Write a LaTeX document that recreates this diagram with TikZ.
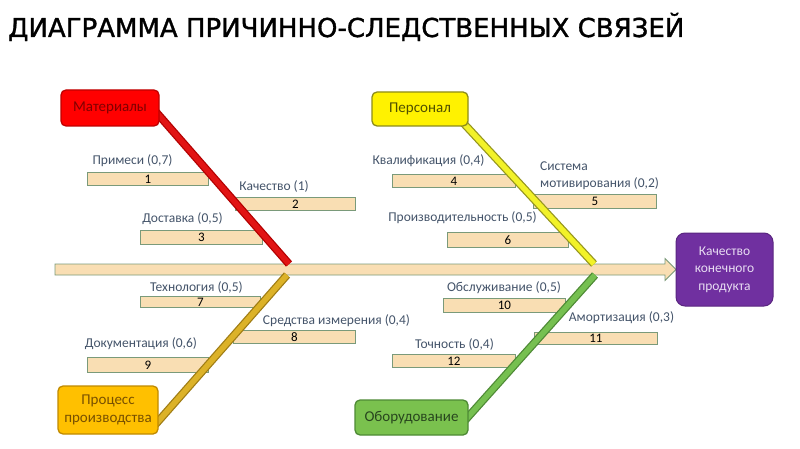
\documentclass[tikz,border=0pt]{standalone}
\usepackage{fontspec}
\setmainfont{Carlito}
\newfontfamily\titlefont[RawFeature={embolden=1.3}]{DejaVu Sans}
\definecolor{ribfill}{HTML}{F9DEB3}
\definecolor{ribline}{HTML}{7A9A7A}
\definecolor{ribtext}{HTML}{44546A}
\definecolor{effill}{HTML}{7030A0}
\definecolor{eftext}{HTML}{E8DDF2}
\definecolor{redcore}{HTML}{E11414}
\definecolor{rededge}{HTML}{B30000}
\definecolor{goldcore}{HTML}{DCB228}
\definecolor{goldedge}{HTML}{A07D14}
\definecolor{yelcore}{HTML}{F2F228}
\definecolor{yeledge}{HTML}{96961E}
\definecolor{grncore}{HTML}{76C050}
\definecolor{grnedge}{HTML}{4E8A35}
\definecolor{procfill}{HTML}{FFC000}
\definecolor{procedge}{HTML}{C08A00}
\definecolor{proctext}{HTML}{785000}
\definecolor{eqfill}{HTML}{7AC14E}
\definecolor{eqtext}{HTML}{28461E}
\definecolor{persedge}{HTML}{8C8C1A}
\definecolor{perstext}{HTML}{505000}
\definecolor{matedge}{HTML}{C00000}
\definecolor{mattext}{HTML}{800000}
\pgfdeclarelayer{back}
\pgfdeclarelayer{ribs}
\pgfdeclarelayer{bones}
\pgfsetlayers{back,ribs,bones,main}
\tikzset{
  ribbox/.style={draw=ribline, line width=0.8pt, fill=ribfill, rectangle, inner sep=0pt, anchor=north west, font=\fontsize{13}{13}\selectfont, text=black},
  riblabel/.style={inner sep=0pt, font=\fontsize{13.5}{17}\selectfont, text=ribtext},
  catbox/.style={rectangle, rounded corners=5pt, line width=1.3pt, inner sep=0pt, font=\fontsize{15}{18}\selectfont, align=center},
  bonecore/.style={line width=5.5pt},
  boneedge/.style={line width=8pt},
}
\begin{document}
\begin{tikzpicture}[x=1pt,y=-1pt]
\useasboundingbox (0,0) rectangle (800,449);
\begin{pgfonlayer}{back}
  \fill[white] (0,0) rectangle (800,449);
\end{pgfonlayer}
% title
\node[anchor=base west, inner sep=0pt, font=\titlefont\fontsize{26}{26}\selectfont] (title) at (8,37) {ДИАГРАММА ПРИЧИННО-СЛЕДСТВЕННЫХ СВЯЗЕЙ};
% category boxes
\node[catbox, draw=matedge, fill=red, text=mattext, minimum width=98pt, minimum height=36pt] (mat) at (110,108) {Материалы};
\node[catbox, draw=persedge, fill=yellow, text=perstext, minimum width=96pt, minimum height=34pt] (pers) at (420,109) {Персонал};
\node[catbox, draw=procedge, fill=procfill, text=proctext, minimum width=100pt, minimum height=48pt] (proc) at (108,410) {Процесс\\производства};
\node[catbox, draw=grnedge, fill=eqfill, text=eqtext, minimum width=113pt, minimum height=35pt] (equip) at (411.5,417.5) {Оборудование};
% effect
\node[rectangle, rounded corners=9pt, fill=effill, draw=effill!80!black, line width=1pt, text=eftext, align=center, minimum width=97pt, minimum height=73pt, inner sep=0pt, font=\fontsize{13.5}{17.5}\selectfont] (eff) at (724.5,269.5) {Качество\\конечного\\продукта};
% coordinates for bones
\coordinate (m0) at (153,108.5);
\coordinate (m1) at (289,264);
\coordinate (p0) at (152,428.4);
\coordinate (p1) at (287,275);
\coordinate (s0) at (457,116.2);
\coordinate (s1) at (594,264);
\coordinate (e0) at (458,428.2);
\coordinate (e1) at (595,275);
\begin{pgfonlayer}{ribs}
  % spine
  \draw[ribline, fill=ribfill, line width=0.8pt] (55,264) -- (665,264) -- (665,258.5) -- (676,269.5) -- (665,280.5) -- (665,275) -- (55,275) -- cycle;
  % ribs
  \node[ribbox, minimum width=121pt, minimum height=13pt] (r1) at (87,172) {1};
  \node[ribbox, minimum width=120pt, minimum height=13pt] (r2) at (235,197) {2};
  \node[ribbox, minimum width=122pt, minimum height=14pt] (r3) at (140,230) {3};
  \node[ribbox, minimum width=123pt, minimum height=13pt] (r4) at (392,174) {4};
  \node[ribbox, minimum width=123pt, minimum height=14pt] (r5) at (533,194) {5};
  \node[ribbox, minimum width=121pt, minimum height=15pt] (r6) at (447,232) {6};
  \node[ribbox, minimum width=120pt, minimum height=11pt] (r7) at (140,296) {7};
  \node[ribbox, minimum width=122pt, minimum height=13pt] (r8) at (233,330) {8};
  \node[ribbox, minimum width=121pt, minimum height=15pt] (r9) at (87,357) {9};
  \node[ribbox, minimum width=122pt, minimum height=14pt] (r10) at (443,298) {10};
  \node[ribbox, minimum width=123pt, minimum height=12pt] (r11) at (534,332) {11};
  \node[ribbox, minimum width=123pt, minimum height=13pt] (r12) at (392,354) {12};
  % labels
  \node[riblabel] (l1) at (132.5,160.5) {Примеси (0,7)};
  \node[riblabel] (l2) at (274,186.5) {Качество (1)};
  \node[riblabel] (l3) at (182.5,219) {Доставка (0,5)};
  \node[riblabel] (l4) at (428.5,160.5) {Квалификация (0,4)};
  \node[riblabel, anchor=west, align=left] (l5) at (540,175.5) {Система\\мотивирования (0,2)};
  \node[riblabel] (l6) at (462.5,218) {Производительность (0,5)};
  \node[riblabel] (l7) at (196.5,287.5) {Технология (0,5)};
  \node[riblabel] (l8) at (336.5,320.5) {Средства измерения (0,4)};
  \node[riblabel] (l9) at (141,344) {Документация (0,6)};
  \node[riblabel] (l10) at (504,288) {Обслуживание (0,5)};
  \node[riblabel] (l11) at (621.5,318) {Амортизация (0,3)};
  \node[riblabel] (l12) at (454.5,344) {Точность (0,4)};
\end{pgfonlayer}
\begin{pgfonlayer}{bones}
  \draw[boneedge, rededge] (m0) -- (m1);
  \draw[bonecore, redcore] (m0) -- (m1);
  \draw[boneedge, goldedge] (p0) -- (p1);
  \draw[bonecore, goldcore] (p0) -- (p1);
  \draw[boneedge, yeledge] (s0) -- (s1);
  \draw[bonecore, yelcore] (s0) -- (s1);
  \draw[boneedge, grnedge] (e0) -- (e1);
  \draw[bonecore, grncore] (e0) -- (e1);
\end{pgfonlayer}
\end{tikzpicture}
\end{document}
